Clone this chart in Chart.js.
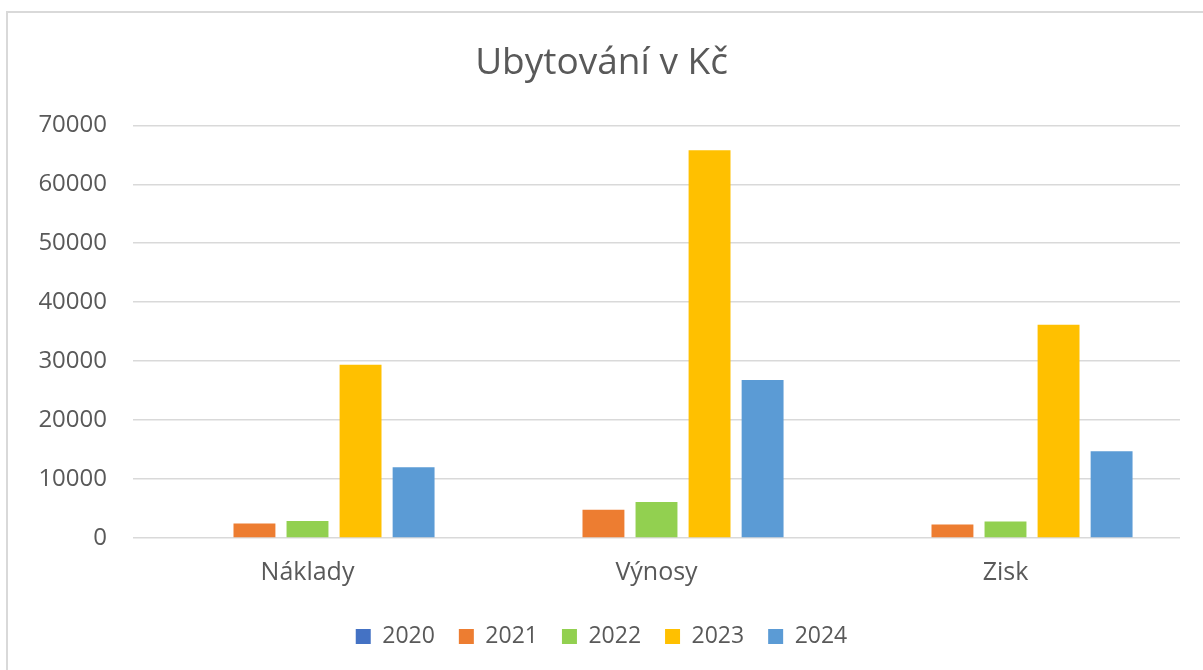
<!DOCTYPE html>
<html>
<head>
<meta charset="utf-8">
<script src="https://cdn.jsdelivr.net/npm/chart.js@4.4.1/dist/chart.umd.min.js"></script>
<style>
  html, body { margin: 0; padding: 0; background: #ffffff; overflow: hidden; }
  #frame { position: absolute; left: 6px; top: 11px; width: 1400px; height: 900px; border: 2px solid #d9d9d9; box-sizing: border-box; }
  #c { position: absolute; left: 0; top: 0; }
</style>
</head>
<body>
<div id="frame"></div>
<canvas id="c" width="1203" height="670"></canvas>
<script>
const categories = ['Náklady', 'Výnosy', 'Zisk'];
const seriesNames = ['2020', '2021', '2022', '2023', '2024'];
const values2020 = [0, 0, 0];
const values2021 = [2450, 4800, 2300];
const values2022 = [2900, 6100, 2800];
const values2023 = [29400, 65800, 36200];
const values2024 = [12000, 26800, 14700];
const seriesColors = ['#4472C4', '#ED7D31', '#92D050', '#FFC000', '#5B9BD5'];
const yTicks = [0, 10000, 20000, 30000, 40000, 50000, 60000, 70000];

const allValues = [values2020, values2021, values2022, values2023, values2024];
const font = "'Open Sans', 'Noto Sans', sans-serif";
const textColor = '#595959';

new Chart(document.getElementById('c'), {
  type: 'bar',
  data: {
    labels: categories,
    datasets: seriesNames.map((name, i) => ({
      label: name,
      data: allValues[i],
      backgroundColor: seriesColors[i],
      borderWidth: 0,
      categoryPercentage: 0.76,
      barPercentage: 0.79
    }))
  },
  options: {
    responsive: false,
    animation: false,
    devicePixelRatio: 1,
    layout: { padding: { left: 23, right: 23, top: 0, bottom: 12 } },
    plugins: {
      title: {
        display: true,
        text: 'Ubytování v Kč',
        color: textColor,
        font: { family: font, size: 37, weight: 'normal' },
        padding: { top: 41, bottom: 40 }
      },
      legend: {
        position: 'bottom',
        labels: {
          color: textColor,
          font: { family: font, size: 23 },
          boxWidth: 15,
          boxHeight: 15,
          padding: 24
        }
      },
      tooltip: { enabled: false }
    },
    scales: {
      x: {
        grid: { display: false, drawTicks: false },
        border: { display: false },
        ticks: { color: textColor, font: { family: font, size: 25 }, padding: 20 },
        afterFit: (s) => { s.height = 63; }
      },
      y: {
        min: 0,
        max: 70000,
        afterBuildTicks: (s) => { s.ticks = yTicks.map(v => ({ value: v })); },
        grid: { color: '#d9d9d9', lineWidth: 1.6, drawTicks: false },
        border: { display: false },
        ticks: { color: textColor, font: { family: font, size: 24 }, padding: 26, callback: (v) => String(v) },
        afterFit: (s) => { s.width = 110; }
      }
    }
  }
});
</script>
</body>
</html>
